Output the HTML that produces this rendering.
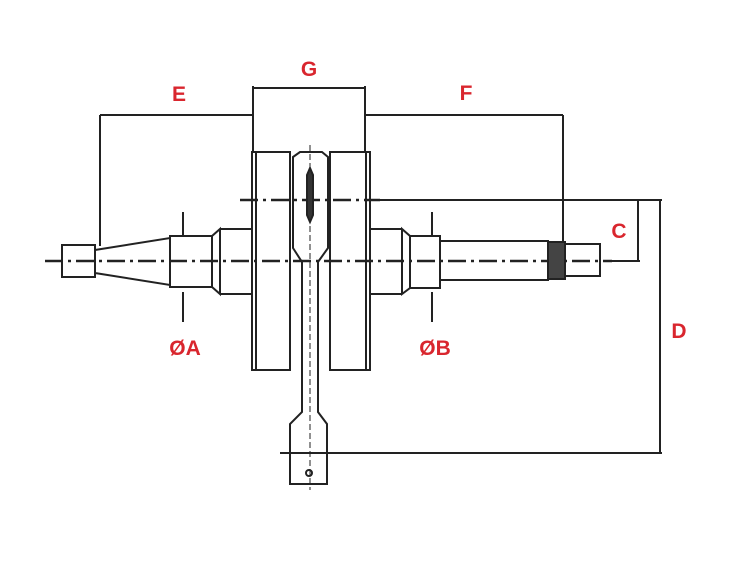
<!DOCTYPE html><html><head><style>body{margin:0;background:#fff}svg{display:block}text{font-family:"Liberation Sans",sans-serif;font-weight:bold;fill:#d9262e;font-size:21px;text-anchor:middle}</style></head><body>
<svg width="753" height="561" viewBox="0 0 753 561" xmlns="http://www.w3.org/2000/svg">
<g stroke="#222" fill="none" stroke-width="2">
<line x1="45" y1="261" x2="612" y2="261" stroke-width="2.4" stroke-dasharray="18,5,3,5"/>
<line x1="240" y1="200" x2="380" y2="200" stroke-width="2.4" stroke-dasharray="18,5,3,5"/>
<line x1="380" y1="200" x2="662" y2="200"/>
<line x1="612" y1="261" x2="640" y2="261"/>
<line x1="280" y1="453" x2="662" y2="453"/>
<line x1="660" y1="200" x2="660" y2="453"/>
<line x1="638" y1="200" x2="638" y2="261"/>
<line x1="100" y1="115" x2="252" y2="115"/><line x1="100" y1="115" x2="100" y2="246"/>
<line x1="365" y1="115" x2="563" y2="115"/><line x1="563" y1="115" x2="563" y2="242"/>
<line x1="253" y1="88" x2="365" y2="88"/><line x1="253" y1="86" x2="253" y2="152"/><line x1="365" y1="86" x2="365" y2="152"/>
<line x1="183" y1="212" x2="183" y2="236"/><line x1="183" y1="292" x2="183" y2="322"/>
<line x1="432" y1="212" x2="432" y2="236"/><line x1="432" y1="292" x2="432" y2="322"/>
<rect x="62" y="245" width="33" height="32"/>
<path d="M95 250 L170 238 L170 285 L95 273 Z"/>
<rect x="170" y="236" width="42" height="51"/>
<path d="M212 236 L220 229 L220 294 L212 287"/>
<path d="M220 229 H252 M220 294 H252"/>
<rect x="252" y="152" width="38" height="218"/>
<line x1="256" y1="152" x2="256" y2="370"/>
<rect x="330" y="152" width="40" height="218"/>
<line x1="366" y1="152" x2="366" y2="370"/>
<path d="M293 157 L300 152 H322 L328 157 V248 L318 262 V412 L327 424 V484 H290 V424 L302 412 V262 L293 248 Z"/>
<line x1="310" y1="145" x2="310" y2="490" stroke-width="1" stroke-dasharray="6,3"/>
<path d="M307 175 L310 168 L313 175 V215 L310 222 L307 215 Z" fill="#333"/>
<circle cx="309" cy="473" r="3"/>
<path d="M370 229 H402 M370 294 H402"/>
<path d="M402 229 V294 L410 288 V236 Z"/>
<rect x="410" y="236" width="30" height="52"/>
<rect x="440" y="241" width="108" height="39"/>
<rect x="548" y="242" width="17" height="37" fill="#444"/>
<rect x="565" y="244" width="35" height="32"/>
</g>
<text x="179" y="101">E</text><text x="309" y="76">G</text><text x="466" y="100">F</text>
<text x="619" y="238">C</text><text x="679" y="338">D</text>
<text x="185" y="355">ØA</text><text x="435" y="355">ØB</text>
</svg></body></html>
